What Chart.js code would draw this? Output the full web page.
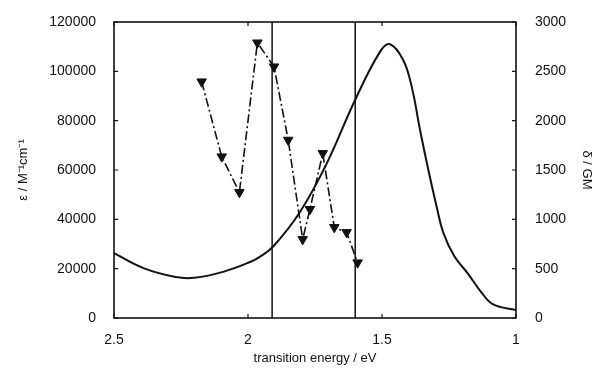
<!DOCTYPE html>
<html>
<head>
<meta charset="utf-8">
<script src="https://cdn.jsdelivr.net/npm/chart.js@4"></script>
<style>
  html, body { margin: 0; padding: 0; background: #fff; }
  #wrap { width: 596px; height: 368px; }
</style>
</head>
<body>
<div id="wrap"><canvas id="chart"></canvas></div>
<script>
// one-photon absorption (left axis)
const energyEps = [2.5, 2.39, 2.27, 2.2, 2.09, 1.99, 1.955, 1.906, 1.806, 1.706, 1.6, 1.507, 1.47, 1.421, 1.389, 1.358, 1.327, 1.296, 1.271, 1.23, 1.18, 1.13, 1.085, 1.0];
const epsilon = [26300, 20200, 16600, 16300, 18800, 22800, 24900, 29000, 43000, 62700, 88500, 108000, 111000, 104600, 93700, 76200, 60000, 45100, 34500, 25000, 18100, 10500, 5500, 3200];

// two-photon cross section (right axis)
const energyTpa = [2.173, 2.098, 2.032, 1.965, 1.903, 1.85, 1.796, 1.769, 1.721, 1.678, 1.632, 1.591];
const delta = [2395, 1635, 1274, 2790, 2547, 1804, 797, 1102, 1669, 919, 868, 561];

// vertical marker lines
const vLines = [1.91, 1.6];

const xTicks = [2.5, 2, 1.5, 1];

const FONT = "'Liberation Sans', Arial, sans-serif";
const INK = '#111';

const toPts = (xs, ys) => xs.map((x, i) => ({ x: x, y: ys[i] }));

const datasets = [
  {
    label: 'epsilon',
    data: toPts(energyEps, epsilon),
    yAxisID: 'y',
    borderColor: INK,
    borderWidth: 2,
    pointRadius: 0,
    tension: 0.4,
    fill: false
  },
  {
    label: 'delta',
    data: toPts(energyTpa, delta),
    yAxisID: 'y2',
    borderColor: INK,
    backgroundColor: INK,
    borderWidth: 1.6,
    borderDash: [9, 3, 2, 3],
    pointStyle: 'triangle',
    rotation: 180,
    pointRadius: 5.5,
    pointBorderWidth: 1,
    tension: 0,
    fill: false
  }
];

vLines.forEach((e) => {
  datasets.push({
    label: 'line ' + e,
    data: [{ x: e, y: 0 }, { x: e, y: 120000 }],
    yAxisID: 'y',
    borderColor: INK,
    borderWidth: 1.5,
    pointRadius: 0,
    fill: false
  });
});

// frame + inward tick marks
const framePlugin = {
  id: 'frame',
  afterDatasetsDraw(chart) {
    const { ctx, chartArea: a, scales } = chart;
    ctx.save();
    ctx.strokeStyle = INK;
    ctx.lineWidth = 1.6;
    ctx.strokeRect(a.left, a.top, a.right - a.left, a.bottom - a.top);
    ctx.lineWidth = 1.2;
    ctx.beginPath();
    scales.x.ticks.forEach((t) => {
      const px = scales.x.getPixelForValue(t.value);
      ctx.moveTo(px, a.bottom); ctx.lineTo(px, a.bottom - 4);
      ctx.moveTo(px, a.top); ctx.lineTo(px, a.top + 4);
    });
    scales.y.ticks.forEach((t) => {
      const py = scales.y.getPixelForValue(t.value);
      ctx.moveTo(a.left, py); ctx.lineTo(a.left + 4, py);
    });
    scales.y2.ticks.forEach((t) => {
      const py = scales.y2.getPixelForValue(t.value);
      ctx.moveTo(a.right, py); ctx.lineTo(a.right - 4, py);
    });
    ctx.stroke();
    ctx.restore();
  }
};

new Chart(document.getElementById('chart'), {
  type: 'line',
  data: { datasets: datasets },
  options: {
    responsive: true,
    maintainAspectRatio: false,
    animation: false,
    layout: { padding: { top: 22, left: 0, right: 0, bottom: 0 } },
    plugins: { legend: { display: false }, tooltip: { enabled: false } },
    scales: {
      x: {
        type: 'linear',
        reverse: true,
        min: 1,
        max: 2.5,
        afterFit: (s) => { s.height = 50; },
        afterBuildTicks: (s) => { s.ticks = xTicks.map((v) => ({ value: v })); },
        grid: { display: false },
        border: { display: false },
        ticks: { color: INK, padding: 6, font: { family: FONT, size: 14 }, callback: (v) => String(v) },
        title: { display: true, text: 'transition energy / eV', color: INK, font: { family: FONT, size: 13 }, padding: { top: 8, bottom: 2 } }
      },
      y: {
        position: 'left',
        min: 0,
        max: 120000,
        afterFit: (s) => { s.width = 114; },
        grid: { display: false },
        border: { display: false },
        ticks: { stepSize: 20000, color: INK, padding: 10, font: { family: FONT, size: 14 }, callback: (v) => String(v) },
        title: { display: true, text: 'ε / M⁻¹cm⁻¹', color: INK, font: { family: FONT, size: 13 }, padding: { top: 16, bottom: 0 } }
      },
      y2: {
        position: 'right',
        min: 0,
        max: 3000,
        afterFit: (s) => { s.width = 80; },
        grid: { display: false },
        border: { display: false },
        ticks: { stepSize: 500, color: INK, padding: 11, font: { family: FONT, size: 14 }, callback: (v) => String(v) },
        title: { display: true, text: 'δ / GM', color: INK, font: { family: FONT, size: 13 }, padding: { top: 2, bottom: 0 } }
      }
    }
  },
  plugins: [framePlugin]
});
</script>
</body>
</html>
